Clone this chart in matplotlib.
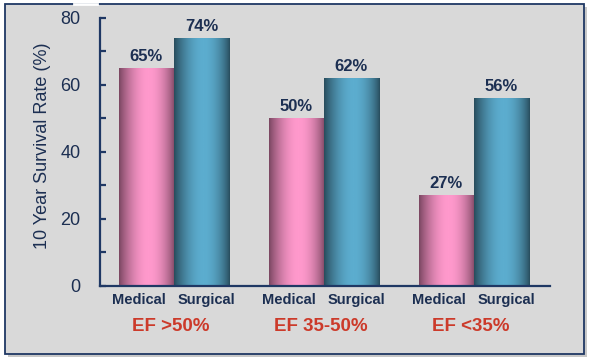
import numpy as np
import matplotlib
matplotlib.use("Agg")
import matplotlib.pyplot as plt
from matplotlib.colors import LinearSegmentedColormap
from matplotlib.patches import Rectangle
from matplotlib.lines import Line2D

plt.rcParams['font.family'] = ['Liberation Sans', 'DejaVu Sans']

# data
groups = ['EF >50%', 'EF 35-50%', 'EF <35%']
series = ['Medical', 'Surgical']
medical = [65, 50, 27]
surgical = [74, 62, 56]
yticks = [0, 20, 40, 60, 80]

navy = '#1c2f52'
spine = '#1f3864'
red = '#cc3a2a'

fig = plt.figure(figsize=(5.94, 3.59), dpi=100)
fig.patch.set_facecolor('white')

# frame with shadow (behind the axes)
W, H = 594, 359
fig.patches.append(Rectangle((8 / W, 2 / H), 579 / W, 350 / H, transform=fig.transFigure,
                             facecolor='#c8c8c8', edgecolor='none', zorder=-3))
fig.patches.append(Rectangle((5 / W, 5 / H), 579 / W, 350 / H, transform=fig.transFigure,
                             facecolor='#d9d9d9', edgecolor=spine, lw=1.3, zorder=-2))
fig.lines.append(Line2D([74 / W, 97 / W], [355 / H, 355 / H], transform=fig.transFigure,
                        color='white', lw=2, zorder=-1))

ax = fig.add_axes([100 / W, (359 - 285.7) / H, 450 / W, 267.7 / H])
ax.set_facecolor('none')

x = np.arange(len(groups))
w = 0.367

pink = LinearSegmentedColormap.from_list('pink', ['#7a4661', '#ff99cc'])
cyan = LinearSegmentedColormap.from_list('cyan', ['#284c5c', '#5cadcf'])

t = np.linspace(0, 1, 120)
p = np.log(0.5) / np.log(0.53)
prof = np.sin(np.pi * t ** p) ** 0.8
grad = prof[np.newaxis, :]

bars_m = ax.bar(x - w / 2, medical, w, color='none')
bars_s = ax.bar(x + w / 2, surgical, w, color='none')

for bars, cmap in [(bars_m, pink), (bars_s, cyan)]:
    for b in bars:
        x0 = b.get_x()
        ax.imshow(grad, extent=[x0, x0 + b.get_width(), 0, b.get_height()],
                  aspect='auto', cmap=cmap, vmin=0, vmax=1, zorder=2,
                  interpolation='bilinear')
        ax.annotate(f'{b.get_height():.0f}%', (x0 + b.get_width() / 2, b.get_height()),
                    xytext=(0, 5.2), textcoords='offset points', ha='center',
                    va='baseline', fontsize=12, fontweight='bold', color=navy)

ax.set_xlim(-0.493, 2.507)
ax.set_ylim(0, 80)

for s in ['top', 'right']:
    ax.spines[s].set_visible(False)
for s in ['left', 'bottom']:
    ax.spines[s].set_color(spine)
    ax.spines[s].set_linewidth(1.6)
    ax.spines[s].set_zorder(3)

ax.set_yticks(yticks)
ax.set_yticks(np.arange(10, 80, 20), minor=True)
ax.tick_params(axis='y', which='both', direction='in', length=4.5, width=1.6,
               color=spine, labelsize=13, labelcolor=navy, pad=14)
ax.set_xticks([])

fig.text(43 / W, (359 - 146) / H, '10 Year Survival Rate (%)', rotation=90,
         ha='center', va='center', fontsize=13, color=navy)

for i, g in enumerate(groups):
    ax.text(i - 0.237, -0.053, series[0], transform=ax.get_xaxis_transform(),
            ha='center', va='center', fontsize=10.5, fontweight='bold', color=navy)
    ax.text(i + 0.217, -0.053, series[1], transform=ax.get_xaxis_transform(),
            ha='center', va='center', fontsize=10.5, fontweight='bold', color=navy)
    ax.text(i - 0.02, -0.154, g, transform=ax.get_xaxis_transform(),
            ha='center', va='center', fontsize=13.5, fontweight='bold', color=red)

fig.savefig('out.png', dpi=100)
